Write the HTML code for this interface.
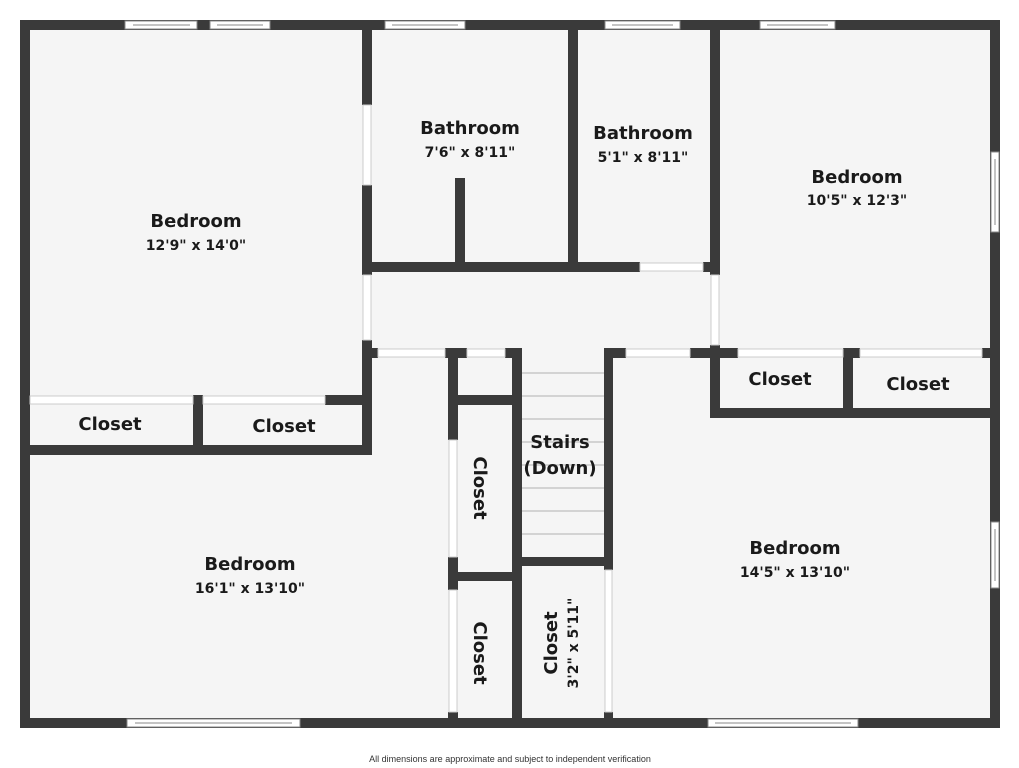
<!DOCTYPE html>
<html><head><meta charset="utf-8"><style>
html,body{margin:0;padding:0;background:#fff;}
svg{display:block;}
text{font-family:"DejaVu Sans","Liberation Sans",sans-serif;fill:#1a1a1a;}
.n{font-size:18px;font-weight:bold;}
.d{font-size:14px;font-weight:bold;}
</style></head><body>
<svg width="1019" height="768" viewBox="0 0 1019 768">
<rect x="20" y="20" width="980" height="708" fill="#f5f5f5"/>
<g fill="#3a3a3a">
<!-- outer -->
<rect x="20" y="20" width="980" height="10"/>
<rect x="20" y="718" width="980" height="10"/>
<rect x="20" y="20" width="10" height="708"/>
<rect x="990" y="20" width="10" height="708"/>
<!-- left bedroom right wall -->
<rect x="362" y="20" width="10" height="85"/>
<rect x="362" y="185" width="10" height="90"/>
<rect x="362" y="340" width="10" height="115"/>
<!-- closets left -->
<rect x="325" y="395" width="45" height="10"/>
<rect x="193" y="395" width="10" height="58"/>
<rect x="20" y="445" width="352" height="10"/>
<!-- bath -->
<rect x="362" y="262" width="278" height="10"/>
<rect x="703" y="262" width="15" height="10"/>
<rect x="568" y="20" width="10" height="252"/>
<rect x="455" y="178" width="10" height="94"/>
<rect x="710" y="20" width="10" height="255"/>
<rect x="710" y="345" width="10" height="73"/>
<!-- hall bottom -->
<rect x="362" y="348" width="16" height="10"/>
<rect x="445" y="348" width="22" height="10"/>
<rect x="505" y="348" width="17" height="10"/>
<rect x="604" y="348" width="22" height="10"/>
<rect x="690" y="348" width="48" height="10"/>
<rect x="843" y="348" width="17" height="10"/>
<rect x="982" y="348" width="10" height="10"/>
<!-- right closets -->
<rect x="710" y="408" width="290" height="10"/>
<rect x="843" y="348" width="10" height="70"/>
<!-- middle closets/stairs -->
<rect x="448" y="348" width="10" height="92"/>
<rect x="448" y="557" width="10" height="33"/>
<rect x="448" y="712" width="10" height="10"/>
<rect x="448" y="395" width="67" height="10"/>
<rect x="448" y="572" width="67" height="9"/>
<rect x="512" y="348" width="10" height="375"/>
<rect x="512" y="557" width="100" height="9"/>
<rect x="604" y="348" width="9" height="222"/>
<rect x="604" y="712" width="9" height="10"/>
</g>
<!-- door gaps (light) -->
<g fill="#fff" stroke="#ccc" stroke-width="1">
<rect x="363" y="105" width="8" height="80"/>
<rect x="363" y="275" width="8" height="65"/>
<rect x="640" y="263" width="63" height="8"/>
<rect x="711" y="275" width="8" height="70"/>
<rect x="378" y="349" width="67" height="8"/>
<rect x="467" y="349" width="38" height="8"/>
<rect x="626" y="349" width="64" height="8"/>
<rect x="738" y="349" width="105" height="8"/>
<rect x="860" y="349" width="122" height="8"/>
<rect x="30" y="396" width="163" height="8"/>
<rect x="203" y="396" width="122" height="8"/>
<rect x="449" y="440" width="8" height="117"/>
<rect x="449" y="590" width="8" height="122"/>
<rect x="605" y="570" width="7" height="142"/>
</g>
<!-- stair treads -->
<g stroke="#c8c8c8" stroke-width="1.5">
<line x1="522" y1="373" x2="604" y2="373"/><line x1="522" y1="396" x2="604" y2="396"/>
<line x1="522" y1="419" x2="604" y2="419"/><line x1="522" y1="442" x2="604" y2="442"/>
<line x1="522" y1="465" x2="604" y2="465"/><line x1="522" y1="488" x2="604" y2="488"/>
<line x1="522" y1="511" x2="604" y2="511"/><line x1="522" y1="534" x2="604" y2="534"/>
</g>
<!-- windows -->
<g fill="#fff" stroke="#888" stroke-width="1">
<rect x="125" y="21" width="72" height="8"/><rect x="210" y="21" width="60" height="8"/>
<rect x="385" y="21" width="80" height="8"/><rect x="605" y="21" width="75" height="8"/>
<rect x="760" y="21" width="75" height="8"/>
<rect x="127" y="719" width="173" height="8"/><rect x="708" y="719" width="150" height="8"/>
<rect x="991" y="152" width="8" height="80"/><rect x="991" y="522" width="8" height="66"/>
</g>
<g stroke="#888" stroke-width="1">
<line x1="133" y1="25" x2="190" y2="25"/><line x1="217" y1="25" x2="263" y2="25"/>
<line x1="392" y1="25" x2="458" y2="25"/><line x1="612" y1="25" x2="673" y2="25"/>
<line x1="767" y1="25" x2="828" y2="25"/>
<line x1="135" y1="723" x2="292" y2="723"/><line x1="715" y1="723" x2="851" y2="723"/>
<line x1="995" y1="159" x2="995" y2="225"/><line x1="995" y1="529" x2="995" y2="581"/>
</g>
<!-- labels -->
<g text-anchor="middle">
<text class="n" x="196" y="227">Bedroom</text><text class="d" x="196" y="250">12'9" x 14'0"</text>
<text class="n" x="470" y="134">Bathroom</text><text class="d" x="470" y="157">7'6" x 8'11"</text>
<text class="n" x="643" y="139">Bathroom</text><text class="d" x="643" y="162">5'1" x 8'11"</text>
<text class="n" x="857" y="183">Bedroom</text><text class="d" x="857" y="205">10'5" x 12'3"</text>
<text class="n" x="110" y="430">Closet</text><text class="n" x="284" y="432">Closet</text>
<text class="n" x="780" y="385">Closet</text><text class="n" x="918" y="390">Closet</text>
<text class="n" x="560" y="448">Stairs</text><text class="n" x="560" y="474">(Down)</text>
<text class="n" x="250" y="570">Bedroom</text><text class="d" x="250" y="593">16'1" x 13'10"</text>
<text class="n" x="795" y="554">Bedroom</text><text class="d" x="795" y="577">14'5" x 13'10"</text>
<text class="n" transform="translate(474,488) rotate(90)">Closet</text>
<text class="n" transform="translate(474,653) rotate(90)">Closet</text>
<text class="n" transform="translate(557,643) rotate(-90)">Closet</text>
<text class="d" transform="translate(578,643) rotate(-90)">3'2" x 5'11"</text>
<text x="510" y="762" style="font-size:9px;font-family:'Liberation Sans',sans-serif;fill:#333">All dimensions are approximate and subject to independent verification</text>
</g>
</svg>
</body></html>
